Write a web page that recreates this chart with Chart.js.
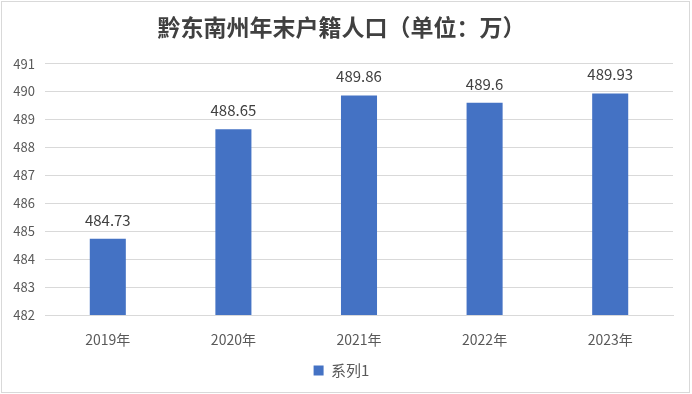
<!DOCTYPE html>
<html>
<head>
<meta charset="utf-8">
<script src="https://cdn.jsdelivr.net/npm/chart.js@4"></script>
<style>
  html, body { margin: 0; padding: 0; background: #fff; }
  #wrap { position: relative; width: 692px; height: 394px; }
</style>
</head>
<body>
<div id="wrap"><canvas id="myChart"></canvas></div>
<script>
const years = ['2019年', '2020年', '2021年', '2022年', '2023年'];
const population = [484.73, 488.65, 489.86, 489.6, 489.93];
const seriesName = '系列1';
const chartTitle = '黔东南州年末户籍人口（单位：万）';

const cjk = '"Noto Sans CJK SC", "Noto Sans", sans-serif';

// marco exterior y etiquetas encima de las barras
const extras = {
  id: 'extras',
  afterDatasetsDraw(chart) {
    const ctx = chart.ctx;
    ctx.save();
    ctx.font = '15px ' + cjk;
    ctx.fillStyle = '#404040';
    ctx.textAlign = 'center';
    ctx.textBaseline = 'alphabetic';
    chart.getDatasetMeta(0).data.forEach((bar, i) => {
      ctx.fillText(String(population[i]), bar.x, bar.y - 13);
    });
    ctx.restore();
  },
  afterDraw(chart) {
    const ctx = chart.ctx;
    ctx.save();
    ctx.strokeStyle = '#d9d9d9';
    ctx.lineWidth = 1;
    ctx.strokeRect(1.5, 1.5, 688, 391);
    ctx.restore();
  }
};

const config = {
  type: 'bar',
  data: {
    labels: years,
    datasets: [{
      label: seriesName,
      data: population,
      backgroundColor: '#4472C4',
      borderWidth: 0,
      categoryPercentage: 1,
      barPercentage: 0.287
    }]
  },
  options: {
    responsive: true,
    maintainAspectRatio: false,
    animation: false,
    layout: { padding: { left: 10, right: 19, top: 0, bottom: 6 } },
    plugins: {
      title: {
        display: true,
        text: chartTitle,
        color: '#404040',
        font: { family: cjk, size: 23, weight: 'bold' },
        padding: { top: 13, bottom: 23 }
      },
      legend: {
        position: 'bottom',
        labels: {
          boxWidth: 10,
          boxHeight: 10,
          color: '#595959',
          font: { family: cjk, size: 15 },
          padding: 12
        }
      },
      tooltip: { enabled: false }
    },
    scales: {
      x: {
        grid: { display: false },
        border: { color: '#d9d9d9' },
        ticks: { color: '#595959', font: { family: cjk, size: 14 }, padding: 8 },
        afterFit: scale => { scale.height = 36; }
      },
      y: {
        min: 482,
        max: 491,
        grid: { color: '#d9d9d9', drawTicks: false },
        border: { display: false },
        ticks: { stepSize: 1, color: '#595959', font: { family: cjk, size: 13 }, padding: 10 },
        afterFit: scale => { scale.width = 35; }
      }
    }
  },
  plugins: [extras]
};

const myChart = new Chart(document.getElementById('myChart'), config);
</script>
</body>
</html>
